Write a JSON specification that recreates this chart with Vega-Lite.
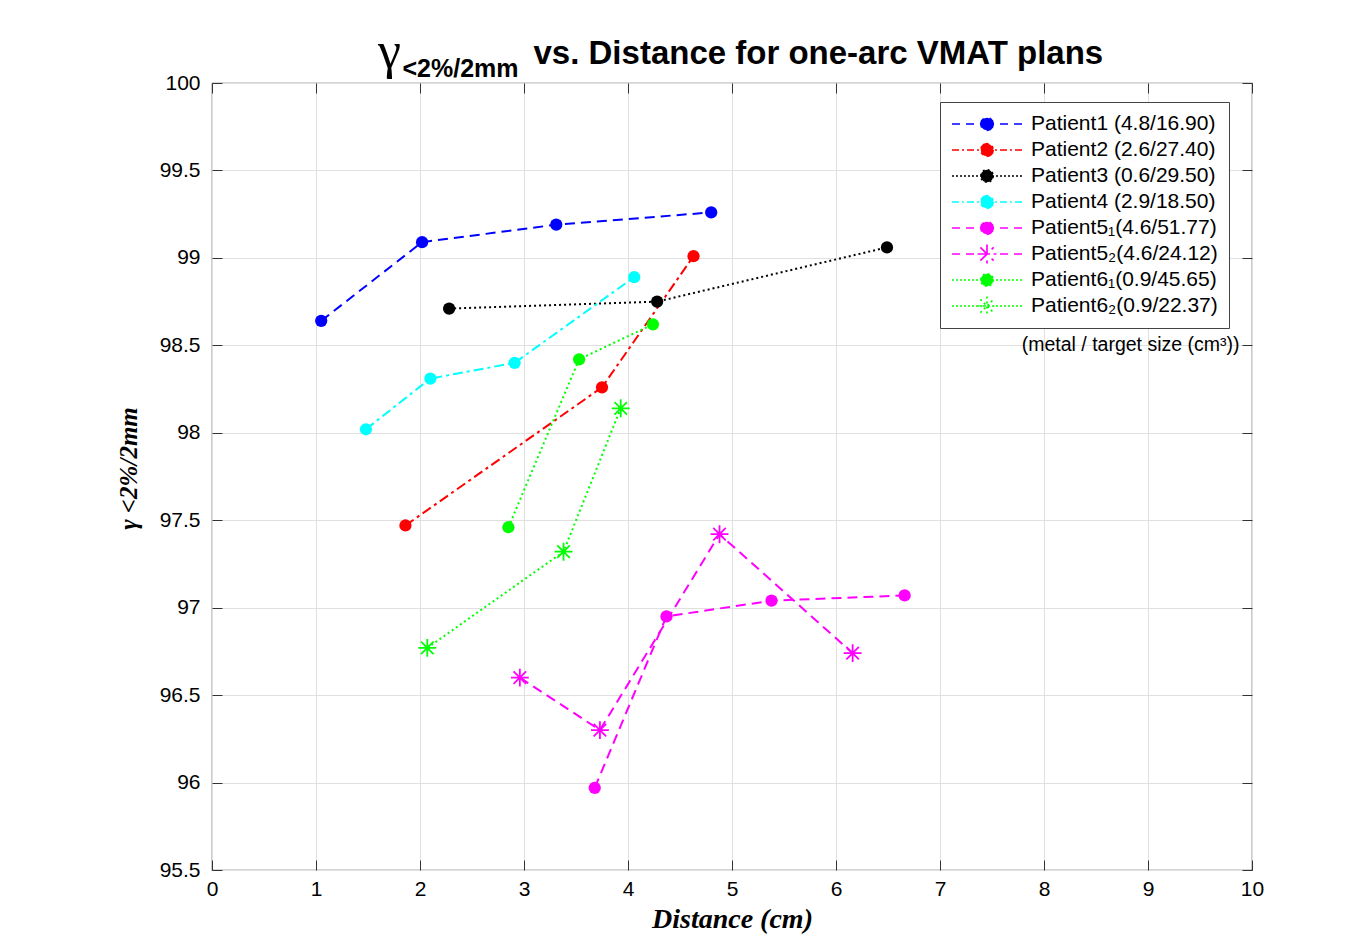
{
  "$schema": "https://vega.github.io/schema/vega-lite/v6.json",
  "width": 1040,
  "height": 787,
  "autosize": {"type": "none"},
  "padding": {"left": 212, "top": 83, "right": 106, "bottom": 69},
  "background": "white",
  "title": {
    "text": "γ",
    "anchor": "start",
    "frame": "group",
    "dx": 166,
    "offset": -83,
    "baseline": "alphabetic",
    "font": "Liberation Serif",
    "fontSize": 52,
    "fontWeight": "normal",
    "color": "black"
  },
  "config": {
    "view": {"stroke": "#555555", "strokeWidth": 1.2},
    "font": "Liberation Sans",
    "axis": {
      "labelFont": "Liberation Sans",
      "labelFontSize": 21,
      "labelColor": "black",
      "tickColor": "#333333",
      "tickWidth": 1,
      "gridColor": "#e0e0e0",
      "gridWidth": 1,
      "labelFlush": false,
      "labelOverlap": false
    }
  },
  "datasets": {
    "pts": [
      {"series": "Patient1 (4.8/16.90)", "distance": 1.05, "gamma": 98.64},
      {"series": "Patient1 (4.8/16.90)", "distance": 2.02, "gamma": 99.09},
      {"series": "Patient1 (4.8/16.90)", "distance": 3.31, "gamma": 99.19},
      {"series": "Patient1 (4.8/16.90)", "distance": 4.80, "gamma": 99.26},
      {"series": "Patient2 (2.6/27.40)", "distance": 1.86, "gamma": 97.47},
      {"series": "Patient2 (2.6/27.40)", "distance": 3.75, "gamma": 98.26},
      {"series": "Patient2 (2.6/27.40)", "distance": 4.63, "gamma": 99.01},
      {"series": "Patient3 (0.6/29.50)", "distance": 2.28, "gamma": 98.71},
      {"series": "Patient3 (0.6/29.50)", "distance": 4.28, "gamma": 98.75},
      {"series": "Patient3 (0.6/29.50)", "distance": 6.49, "gamma": 99.06},
      {"series": "Patient4 (2.9/18.50)", "distance": 1.48, "gamma": 98.02},
      {"series": "Patient4 (2.9/18.50)", "distance": 2.10, "gamma": 98.31},
      {"series": "Patient4 (2.9/18.50)", "distance": 2.91, "gamma": 98.40},
      {"series": "Patient4 (2.9/18.50)", "distance": 4.06, "gamma": 98.89},
      {"series": "Patient5₁(4.6/51.77)", "distance": 3.68, "gamma": 95.97},
      {"series": "Patient5₁(4.6/51.77)", "distance": 4.37, "gamma": 96.95},
      {"series": "Patient5₁(4.6/51.77)", "distance": 5.38, "gamma": 97.04},
      {"series": "Patient5₁(4.6/51.77)", "distance": 6.66, "gamma": 97.07},
      {"series": "Patient5₂(4.6/24.12)", "distance": 2.96, "gamma": 96.60},
      {"series": "Patient5₂(4.6/24.12)", "distance": 3.73, "gamma": 96.30},
      {"series": "Patient5₂(4.6/24.12)", "distance": 4.88, "gamma": 97.42},
      {"series": "Patient5₂(4.6/24.12)", "distance": 6.16, "gamma": 96.74},
      {"series": "Patient6₁(0.9/45.65)", "distance": 2.85, "gamma": 97.46},
      {"series": "Patient6₁(0.9/45.65)", "distance": 3.53, "gamma": 98.42},
      {"series": "Patient6₁(0.9/45.65)", "distance": 4.24, "gamma": 98.62},
      {"series": "Patient6₂(0.9/22.37)", "distance": 2.07, "gamma": 96.77},
      {"series": "Patient6₂(0.9/22.37)", "distance": 3.38, "gamma": 97.32},
      {"series": "Patient6₂(0.9/22.37)", "distance": 3.93, "gamma": 98.14}
    ]
  },
  "resolve": {"axis": {"x": "independent", "y": "independent"}},
  "layer": [
    {
      "data": {"name": "pts"},
      "mark": {"type": "line", "strokeWidth": 2},
      "encoding": {
        "x": {
          "field": "distance", "type": "quantitative",
          "scale": {"domain": [0, 10], "nice": false, "zero": false},
          "axis": {
            "orient": "bottom",
            "values": [0, 1, 2, 3, 4, 5, 6, 7, 8, 9, 10],
            "tickSize": -10,
            "labelPadding": 18,
            "grid": true,
            "domain": false,
            "title": "Distance (cm)",
            "titleFont": "Liberation Serif",
            "titleFontStyle": "italic",
            "titleFontWeight": "bold",
            "titleFontSize": 28,
            "titleColor": "black",
            "titlePadding": 6
          }
        },
        "y": {
          "field": "gamma", "type": "quantitative",
          "scale": {"domain": [95.5, 100], "nice": false, "zero": false},
          "axis": {
            "orient": "left",
            "values": [95.5, 96, 96.5, 97, 97.5, 98, 98.5, 99, 99.5, 100],
            "labelExpr": "datum.value + ''",
            "tickSize": -10,
            "labelPadding": 22,
            "grid": true,
            "domain": false,
            "title": "γ <2%/2mm",
            "titleFont": "Liberation Serif",
            "titleFontStyle": "italic",
            "titleFontWeight": "bold",
            "titleFontSize": 25,
            "titleColor": "black",
            "titlePadding": 18,
            "titleY": 385
          }
        },
        "color": {
          "field": "series", "type": "nominal",
          "scale": {
            "domain": ["Patient1 (4.8/16.90)", "Patient2 (2.6/27.40)", "Patient3 (0.6/29.50)", "Patient4 (2.9/18.50)", "Patient5₁(4.6/51.77)", "Patient5₂(4.6/24.12)", "Patient6₁(0.9/45.65)", "Patient6₂(0.9/22.37)"],
            "range": ["#0000ff", "#ff0000", "#000000", "#00ffff", "#ff00ff", "#ff00ff", "#00ff00", "#00ff00"]
          },
          "legend": {
            "title": null,
            "orient": "none",
            "legendX": 728,
            "legendY": 19,
            "padding": 11,
            "strokeColor": "#444444",
            "fillColor": "white",
            "symbolSize": 4900,
            "symbolStrokeWidth": 1.6,
            "clipHeight": 22,
            "rowPadding": 4,
            "labelFont": "Liberation Sans",
            "labelFontSize": 21,
            "labelColor": "black",
            "labelOffset": 8,
            "labelLimit": 400,
            "encode": {
              "symbols": {
                "update": {
                  "shape": {"signal": "(indexof('36', substring(datum.value, 7, 8)) >= 0 ? 'M-1,0L-0.943,0M-0.886,0L-0.829,0M-0.771,0L-0.714,0M-0.657,0L-0.6,0M-0.543,0L-0.486,0M-0.429,0L-0.371,0M-0.314,0L-0.257,0M-0.2,0L-0.143,0M-0.086,0L-0.029,0M0.029,0L0.086,0M0.143,0L0.2,0M0.257,0L0.314,0M0.371,0L0.429,0M0.486,0L0.543,0M0.6,0L0.657,0M0.714,0L0.771,0M0.829,0L0.886,0M0.943,0L1,0' : indexof('24', substring(datum.value, 7, 8)) >= 0 ? 'M-1,0L-0.8,0M-0.714,0L-0.657,0M-0.571,0L-0.371,0M-0.286,0L-0.229,0M-0.143,0L0.143,0M0.229,0L0.286,0M0.371,0L0.571,0M0.657,0L0.714,0M0.8,0L1,0' : 'M-1,0L-0.771,0M-0.6,0L-0.371,0M-0.2,0L0.2,0M0.371,0L0.6,0M0.771,0L1,0') + (indexof(datum.value, '₂') >= 0 ? 'M0,-0.27L0,0.27M-0.27,0L0.27,0M-0.19,-0.19L0.19,0.19M-0.19,0.19L0.19,-0.19' : 'M0.18,0L0.156,0.09L0.09,0.156L0,0.18L-0.09,0.156L-0.156,0.09L-0.18,0L-0.156,-0.09L-0.09,-0.156L0,-0.18L0.09,-0.156L0.156,-0.09Z')"},
                  "fill": {"scale": "color", "field": "value"},
                  "stroke": {"scale": "color", "field": "value"},
                  "strokeDash": {"value": []},
                  "opacity": {"value": 1},
                  "size": {"value": 4900},
                  "strokeWidth": {"value": 1.7}
                }
              }
            }
          }
        },
        "strokeDash": {
          "field": "series", "type": "nominal",
          "scale": {
            "domain": ["Patient1 (4.8/16.90)", "Patient2 (2.6/27.40)", "Patient3 (0.6/29.50)", "Patient4 (2.9/18.50)", "Patient5₁(4.6/51.77)", "Patient5₂(4.6/24.12)", "Patient6₁(0.9/45.65)", "Patient6₂(0.9/22.37)"],
            "range": [[10, 6], [10, 4, 3, 4], [2, 3], [10, 4, 3, 4], [10, 6], [10, 6], [2, 3], [2, 3]]
          },
          "legend": null
        }
      }
    },
    {
      "data": {"name": "pts"},
      "transform": [{"filter": "indexof(datum.series, '₂') < 0"}],
      "mark": {"type": "point", "shape": "circle", "filled": true, "size": 150, "opacity": 1},
      "encoding": {
        "x": {
          "field": "distance", "type": "quantitative",
          "axis": {
            "orient": "top",
            "values": [0, 1, 2, 3, 4, 5, 6, 7, 8, 9, 10],
            "labels": false,
            "tickSize": -10,
            "grid": false,
            "domain": false,
            "title": "vs. Distance for one-arc VMAT plans",
            "titleFont": "Liberation Sans",
            "titleFontWeight": "bold",
            "titleFontSize": 33,
            "titleColor": "black",
            "titleX": 321,
            "titleY": -20,
            "titleAlign": "left",
            "titleAnchor": "start",
            "titleBaseline": "alphabetic"
          }
        },
        "y": {
          "field": "gamma", "type": "quantitative",
          "axis": {
            "orient": "right",
            "values": [95.5, 96, 96.5, 97, 97.5, 98, 98.5, 99, 99.5, 100],
            "labels": false,
            "tickSize": -10,
            "grid": false,
            "domain": false,
            "title": "<2%/2mm",
            "titleAngle": 0,
            "titleFont": "Liberation Sans",
            "titleFontWeight": "bold",
            "titleFontSize": 25,
            "titleColor": "black",
            "titleX": -850,
            "titleY": -7,
            "titleAlign": "left",
            "titleAnchor": "start",
            "titleBaseline": "alphabetic"
          }
        },
        "color": {"field": "series", "type": "nominal", "legend": null}
      }
    },
    {
      "data": {"name": "pts"},
      "transform": [{"filter": "indexof(datum.series, '₂') >= 0"}],
      "mark": {"type": "point", "shape": "M0,-1L0,1M-1,0L1,0M-0.7,-0.7L0.7,0.7M-0.7,0.7L0.7,-0.7", "filled": false, "size": 320, "strokeWidth": 1.8, "opacity": 1},
      "encoding": {
        "x": {"field": "distance", "type": "quantitative", "axis": null},
        "y": {"field": "gamma", "type": "quantitative", "axis": null},
        "color": {"field": "series", "type": "nominal", "legend": null}
      }
    },
    {
      "data": {"values": [{"note": "(metal / target size (cm³))"}]},
      "mark": {"type": "text", "align": "right", "baseline": "middle", "font": "Liberation Sans", "fontSize": 19.5, "color": "black"},
      "encoding": {
        "x": {"datum": 9.88, "type": "quantitative", "axis": null},
        "y": {"datum": 98.5, "type": "quantitative", "axis": null},
        "text": {"field": "note"}
      }
    }
  ]
}
